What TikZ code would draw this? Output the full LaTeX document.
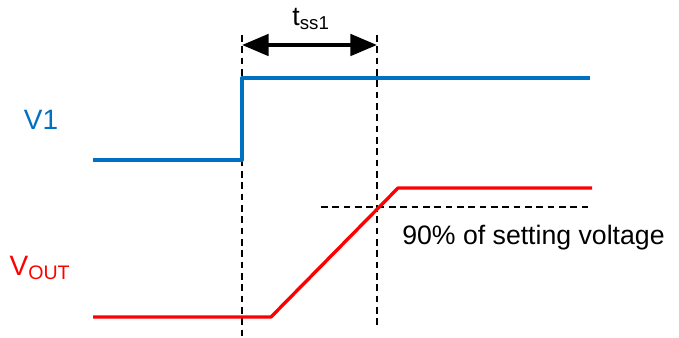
\documentclass[tikz,border=0pt]{standalone}
\usepackage{fontspec}
\setmainfont{Liberation Sans}
\usetikzlibrary{arrows.meta,calc}
\usepackage{tkz-euclide}
\definecolor{SigBlue}{RGB}{0,112,192}
\definecolor{SigRed}{RGB}{255,0,0}

\begin{document}
\begin{tikzpicture}[x=0.75pt,y=-0.75pt]
\useasboundingbox (0,0) rectangle (679,338);
\tikzset{guide/.style={line width=1.8pt,dash pattern=on 5pt off 3.5pt},
  sig/.style={line width=2.5pt,line join=round},
  lbl/.style={inner sep=0pt,font=\fontsize{20}{23}\selectfont}}

% V1 step
\tkzDefPoints{93/160/A,242/160/B,242/78/C,590/78/D}
% VOUT ramp
\tkzDefPoints{93/317/E,271/317/F,398/188/G,592/188/H}
% guides
\tkzDefPoints{242/35/P,242/338/Q,377/35/R,377/327/S,321/207/T,590/207/U}
\tkzDefPoints{242/45/L,377/45/M}

\draw[guide] (P) -- (Q);
\draw[guide] (R) -- (S);
\draw[guide] (T) -- (U);

\draw[sig,color=SigBlue] (A) -- (B) -- (C) -- (D);
\draw[sig,color=SigRed] (E) -- (F) -- (G) -- (H);

\draw[line width=3pt,{Triangle[length=20pt,width=16pt]}-{Triangle[length=20pt,width=16pt]}] (L) -- (M);

\node[lbl] (tss) at (311,19) {t\textsubscript{ss1}};
\node[lbl,font=\fontsize{21}{24}\selectfont,text=SigBlue] (v1) at (41,120) {V1};
\node[lbl,font=\fontsize{21}{24}\selectfont,text=SigRed] (vout) at (40,268) {V\textsubscript{OUT}};
\node[lbl,anchor=west] (pct) at (402,238) {90\% of setting voltage};

\end{tikzpicture}
\end{document}
